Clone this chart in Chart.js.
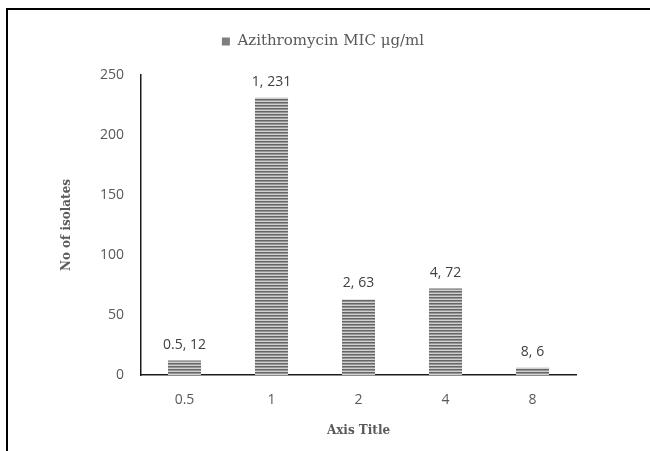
<!DOCTYPE html>
<html>
<head>
<meta charset="utf-8">
<script src="https://cdn.jsdelivr.net/npm/chart.js@4"></script>
<style>
html,body{margin:0;padding:0;background:#fff;}
#wrap{position:relative;width:650px;height:451px;}
#frame{position:absolute;left:6px;top:8px;right:0;bottom:0;border-left:2px solid #000;border-top:2px solid #000;pointer-events:none;}
canvas{display:block;}
</style>
</head>
<body>
<div id="wrap">
<canvas id="c" width="650" height="451"></canvas>
<div id="frame"></div>
</div>
<script>
const categories = ['0.5', '1', '2', '4', '8'];
const isolates = [12, 231, 63, 72, 6];
const seriesName = 'Azithromycin MIC \u03bcg/ml';
const yTicks = [0, 50, 100, 150, 200, 250];

function stripes() {
  const p = document.createElement('canvas');
  p.width = 4; p.height = 3;
  const g = p.getContext('2d');
  g.fillStyle = '#d0d0d0'; g.fillRect(0, 0, 4, 3);
  g.fillStyle = '#666666'; g.fillRect(0, 0, 4, 1);
  g.fillStyle = '#969696'; g.fillRect(0, 1, 4, 1);
  return g.createPattern(p, 'repeat');
}
const ctx = document.getElementById('c').getContext('2d');
const pat = stripes();

const labelPlugin = {
  id: 'barLabels',
  afterDatasetsDraw(chart) {
    const c = chart.ctx;
    const meta = chart.getDatasetMeta(0);
    c.save();
    c.font = '14px "Open Sans", sans-serif';
    c.fillStyle = '#404040';
    c.textAlign = 'center';
    c.textBaseline = 'bottom';
    meta.data.forEach((bar, i) => {
      c.fillText(categories[i] + ', ' + isolates[i], bar.x, bar.y - 9);
    });
    c.restore();
  }
};

// extra gap below the legend and a horizontal shift of the legend
const legendTweak = {
  id: 'legendTweak',
  beforeLayout(chart) {
    const lg = chart.legend;
    if (lg && !lg._tweaked) {
      const origFit = lg.fit.bind(lg);
      lg.fit = function () { origFit(); this.height += 16; };
      const origDraw = lg.draw.bind(lg);
      lg.draw = function () {
        const c = this.ctx;
        c.save(); c.translate(35, 0); origDraw(); c.restore();
      };
      lg._tweaked = true;
    }
  }
};

new Chart(ctx, {
  type: 'bar',
  data: {
    labels: categories,
    datasets: [{
      label: seriesName,
      data: isolates,
      backgroundColor: pat,
      borderWidth: 0,
      categoryPercentage: 1,
      barPercentage: 0.38
    }]
  },
  options: {
    responsive: false,
    animation: false,
    layout: { padding: { left: 0, right: 74, top: 11, bottom: 0 } },
    plugins: {
      legend: {
        display: true,
        position: 'top',
        labels: {
          boxWidth: 8, boxHeight: 8,
          color: '#595959',
          font: { family: '"DejaVu Serif", serif', size: 15 },
          padding: 23,
          generateLabels(chart) {
            return [{ text: seriesName, fillStyle: '#7f7f7f', strokeStyle: '#7f7f7f', lineWidth: 0, datasetIndex: 0, fontColor: '#595959' }];
          }
        }
      },
      tooltip: { enabled: false }
    },
    scales: {
      x: {
        grid: { display: false, drawTicks: false },
        border: { display: true, color: '#1a1a1a', width: 1.5 },
        ticks: { color: '#595959', font: { family: '"Open Sans", sans-serif', size: 14 }, padding: 17 },
        title: { display: true, text: 'Axis Title', color: '#595959', font: { family: '"DejaVu Serif", serif', size: 12, weight: 'bold' }, padding: { top: 0, bottom: 13 } },
        afterFit(s) { s.height = 76; }
      },
      y: {
        min: 0, max: 250,
        afterBuildTicks(s) { s.ticks = yTicks.map(v => ({ value: v })); },
        grid: { display: false, drawTicks: false },
        border: { display: true, color: '#1a1a1a', width: 1.5 },
        ticks: { color: '#595959', font: { family: '"Open Sans", sans-serif', size: 14 }, padding: 17 },
        title: { display: true, text: 'No of isolates', color: '#595959', font: { family: '"DejaVu Serif", serif', size: 12, weight: 'bold' }, padding: { top: 60, bottom: 0 } },
        afterFit(s) { s.width = 141; }
      }
    }
  },
  plugins: [labelPlugin, legendTweak]
});
</script>
</body>
</html>
